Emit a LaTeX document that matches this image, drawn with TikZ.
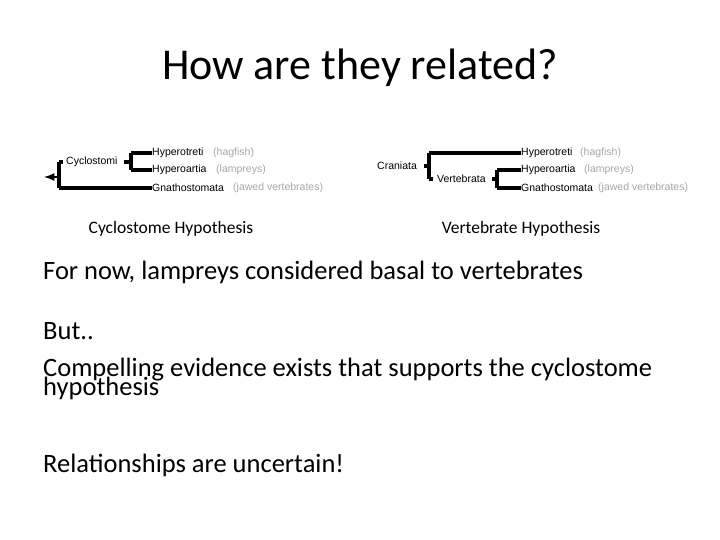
\documentclass[tikz,border=0pt]{standalone}
\usepackage{fontspec}
\setmainfont{Carlito}
\newfontfamily\arialf{Liberation Sans}
\begin{document}
\begin{tikzpicture}[x=1pt,y=-1pt,
  br/.style={line width=3.5pt},
  lab/.style={font=\arialf\fontsize{10.5}{11}\selectfont, anchor=west, inner sep=0pt},
  gr/.style={lab, text=gray!70},
  body/.style={font=\fontsize{26.5}{28}\selectfont, anchor=base west, inner sep=0pt},
  captext/.style={font=\fontsize{17.5}{18}\selectfont, inner sep=0pt}]
\useasboundingbox (0,0) rectangle (720,540);
\node[font=\fontsize{44}{48}\selectfont] (title) at (360,68) {How are they related?};
% left tree
\coordinate (ltip) at (44,177);
\coordinate (lr1) at (59,162); \coordinate (lr2) at (59,188);
\draw[br] (lr1) -- (lr2);
\draw[br] (lr1) -- ++(4,0);
\node[lab] (cyc) at (66,162) {Cyclostomi};
\coordinate (ca) at (131,153); \coordinate (cb) at (131,170);
\draw[br] (ca) -- (cb);
\draw[br] (124,162) -- (131,162);
\node[lab] (h1) at (152,153) {Hyperotreti};
\node[lab] (h2) at (152,170) {Hyperoartia};
\node[lab] (h3) at (152,188) {Gnathostomata};
\draw[br] (ca) -- (h1.west); \draw[br] (cb) -- (h2.west); \draw[br] (lr2) -- (h3.west);
\draw[-latex, line width=2.5pt] (59,177) -- (ltip);
\node[gr] (g1) at (213,153) {(hagfish)};
\node[gr] (g2) at (216,170) {(lampreys)};
\node[gr] (g3) at (233,188) {(jawed vertebrates)};
% right tree
\node[lab] (cr) at (377,166) {Craniata};
\coordinate (r1) at (429,153); \coordinate (r2) at (429,179);
\draw[br] (r1) -- (r2); \draw[br] (424,166) -- (429,166);
\draw[br] (r2) -- ++(4,0);
\node[lab] (ve) at (437,179) {Vertebrata};
\coordinate (v1) at (497,170); \coordinate (v2) at (497,188);
\draw[br] (v1) -- (v2); \draw[br] (492,179) -- (497,179);
\node[lab] (k1) at (521,153) {Hyperotreti};
\node[lab] (k2) at (521,170) {Hyperoartia};
\node[lab] (k3) at (521,188) {Gnathostomata};
\draw[br] (r1) -- (k1.west); \draw[br] (v1) -- (k2.west); \draw[br] (v2) -- (k3.west);
\node[gr] (q1) at (580,153) {(hagfish)};
\node[gr] (q2) at (584,170) {(lampreys)};
\node[gr] (q3) at (598,188) {(jawed vertebrates)};
\node[captext] (cap1) at (171,229) {Cyclostome Hypothesis};
\node[captext] (cap2) at (521,229) {Vertebrate Hypothesis};
\node[body] (t1) at (43,279) {For now, lampreys considered basal to vertebrates};
\node[body] (t2) at (43,339) {But..};
\node[body] (t3) at (43,376) {Compelling evidence exists that supports the cyclostome};
\node[body] (t4) at (43,395) {hypothesis};
\node[body] (t5) at (43,472) {Relationships are uncertain!};
\end{tikzpicture}
\end{document}
